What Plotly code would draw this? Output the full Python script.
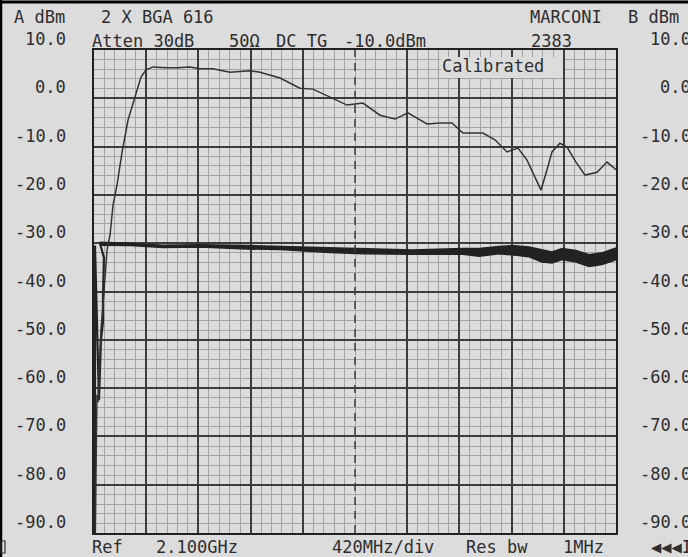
import plotly.graph_objects as go

# Trace A: swept response, GHz / dBm
A_FREQ = [0.010, 0.024, 0.032, 0.040, 0.048, 0.056, 0.072, 0.089, 0.105, 0.129, 0.153,
          0.185, 0.225, 0.274, 0.330, 0.378, 0.418, 0.475, 0.579, 0.676, 0.772, 0.853,
          0.957, 1.094, 1.255, 1.336, 1.497, 1.657, 1.762, 1.899, 2.036, 2.100, 2.164,
          2.301, 2.422, 2.526, 2.679, 2.784, 2.880, 2.969, 3.130, 3.226, 3.323, 3.411,
          3.484, 3.540, 3.597, 3.645, 3.685, 3.749, 3.806, 3.878, 3.951, 4.047, 4.128, 4.200]
A_DBM = [-90.0, -61.4, -62.9, -58.3, -52.1, -48.0, -42.8, -37.6, -31.4, -28.3, -22.1,
         -18.0, -11.3, -4.5, 0.1, 4.4, 5.9, 6.5, 6.3, 6.3, 6.5, 6.1,
         6.1, 5.4, 5.7, 5.4, 4.2, 2.1, 1.9, 0.3, -1.4, -1.2, -1.0,
         -3.5, -4.3, -3.0, -5.3, -5.1, -5.1, -7.2, -7.2, -8.6, -11.1, -10.3,
         -12.8, -15.9, -19.0, -14.8, -11.1, -9.3, -10.1, -13.2, -15.9, -15.3, -13.2, -14.8]

# Trace B: noisy reference level, upper / lower edge of the band
B_FREQ = [0.048, 0.290, 0.555, 0.853, 1.231, 1.497, 1.899, 2.164, 2.567, 2.969,
          3.098, 3.258, 3.363, 3.500, 3.604, 3.685, 3.766, 3.878, 3.983, 4.087, 4.200]
B_TOP = [-29.8, -30.0, -30.4, -30.3, -30.5, -30.7, -31.0, -31.1, -31.4, -31.1,
         -31.1, -30.7, -30.5, -30.8, -31.3, -31.8, -31.1, -31.5, -32.4, -32.0, -31.0]
B_BOT = [-30.4, -30.5, -30.9, -30.8, -31.2, -31.3, -31.9, -32.2, -32.3, -32.3,
         -32.7, -32.2, -32.4, -32.8, -33.9, -34.1, -33.4, -33.9, -34.8, -34.4, -33.4]
# B start-up edge at the left of the screen
B_RISE_FREQ = [0.008, 0.008, 0.040, 0.048, 0.056, 0.072, 0.072, 0.080, 0.048]
B_RISE_DBM = [-90.0, -30.5, -62.5, -55.0, -50.0, -46.3, -41.8, -33.0, -30.0]

X_MAJOR = [0.0, 0.42, 0.84, 1.26, 1.68, 2.52, 2.94, 3.36, 3.78, 4.2]
X_CENTER = 2.1
Y_LEVELS = [10, 0, -10, -20, -30, -40, -50, -60, -70, -80, -90]
Y_LABELS = ["10.0", "0.0", "-10.0", "-20.0", "-30.0", "-40.0", "-50.0",
            "-60.0", "-70.0", "-80.0", "-90.0"]

BG = "#dcdcdc"
INK = "#2e2e2e"
FONT = "DejaVu Sans Mono"

L, R, T, B = 94, 616, 50, 533


def px_x(p):
    return (p - L) / (R - L)


def px_y(p):
    return (B - p) / (B - T)


fig = go.Figure()

fig.add_trace(go.Scatter(x=B_FREQ, y=B_TOP, mode="lines",
                         line=dict(color="#222222", width=1.5), hoverinfo="skip"))
fig.add_trace(go.Scatter(x=B_FREQ, y=B_BOT, mode="lines", fill="tonexty",
                         fillcolor="#222222",
                         line=dict(color="#222222", width=1.5), hoverinfo="skip"))
fig.add_trace(go.Scatter(x=B_RISE_FREQ, y=B_RISE_DBM, mode="lines",
                         line=dict(color="#222222", width=2.2), hoverinfo="skip"))
fig.add_trace(go.Scatter(x=A_FREQ, y=A_DBM, mode="lines",
                         line=dict(color="#333333", width=1.5), hoverinfo="skip"))

fig.update_xaxes(range=[0, 4.2], tickmode="array", tickvals=X_MAJOR,
                 showticklabels=False, ticks="", showgrid=True,
                 gridcolor="#3c3c3c", gridwidth=1.5, zeroline=False,
                 showline=True, linecolor="#222222", linewidth=2, mirror=True,
                 minor=dict(tickmode="linear", tick0=0, dtick=0.084, showgrid=True,
                            gridcolor="#a4a4a4", gridwidth=1, ticks=""))
fig.update_yaxes(range=[-90, 10], tickmode="array", tickvals=Y_LEVELS,
                 showticklabels=False, ticks="", showgrid=True,
                 gridcolor="#3c3c3c", gridwidth=1.5, zeroline=False,
                 showline=True, linecolor="#222222", linewidth=2, mirror=True,
                 minor=dict(tickmode="linear", tick0=0, dtick=2, showgrid=True,
                            gridcolor="#a4a4a4", gridwidth=1, ticks=""))

# dashed centre line
fig.add_shape(type="line", x0=X_CENTER, x1=X_CENTER, y0=-90, y1=10, xref="x", yref="y",
              line=dict(color="#3c3c3c", width=1.5, dash="8px,6px"))

# "Calibrated" box over the grid
fig.add_shape(type="rect", xref="paper", yref="paper", layer="above",
              x0=px_x(441), x1=px_x(563), y0=px_y(78), y1=px_y(57),
              fillcolor=BG, line=dict(width=0))

# screen border (top and left edges of the photo)
fig.add_shape(type="line", xref="paper", yref="paper", x0=px_x(0), x1=px_x(688),
              y0=px_y(2), y1=px_y(2), line=dict(color="black", width=3))
fig.add_shape(type="line", xref="paper", yref="paper", x0=px_x(1), x1=px_x(1),
              y0=px_y(0), y1=px_y(557), line=dict(color="black", width=2.5))
# small marker box bottom left
fig.add_shape(type="rect", xref="paper", yref="paper", x0=px_x(1), x1=px_x(5),
              y0=px_y(553), y1=px_y(541), line=dict(color=INK, width=1.2))

annotations = []


def text(s, x, y, anchor="left"):
    annotations.append(dict(text=s, xref="paper", yref="paper", x=px_x(x), y=px_y(y),
                            xanchor=anchor, yanchor="middle", showarrow=False,
                            font=dict(family=FONT, size=17, color=INK)))


text("A dBm", 12, 17)
text("2 X BGA 616", 99, 17)
text("MARCONI", 528, 17)
text("B dBm", 626, 17)
text("Atten 30dB", 90, 41)
text("50Ω", 227, 41)
text("DC TG", 274, 41)
text("-10.0dBm", 342, 41)
text("2383", 529, 41)
text("Calibrated", 440, 66)
text("Ref", 90, 547)
text("2.100GHz", 154, 547)
text("420MHz/div", 330, 547)
text("Res bw", 464, 547)
text("1MHz", 561, 547)
text("◀◀◀I", 649, 547)

for lev, lab in zip(Y_LEVELS, Y_LABELS):
    for xr in (68, 693):
        annotations.append(dict(text=lab, xref="paper", yref="y", x=px_x(xr), y=lev,
                                yshift=11, xanchor="right", yanchor="middle",
                                showarrow=False,
                                font=dict(family=FONT, size=17, color=INK)))

fig.update_layout(width=688, height=557, paper_bgcolor=BG, plot_bgcolor=BG,
                  margin=dict(l=L, r=688 - R, t=T, b=557 - B),
                  showlegend=False, annotations=annotations)

fig.write_html("out.html", config={"displayModeBar": False},
               post_script="document.body.style.margin='0';")
